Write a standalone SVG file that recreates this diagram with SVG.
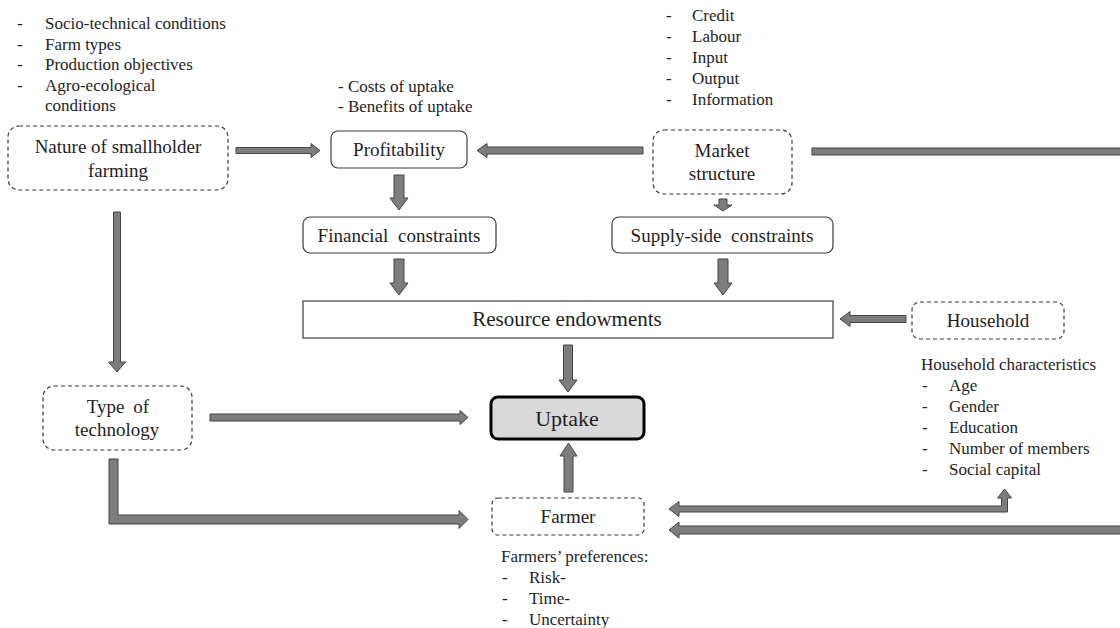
<svg xmlns="http://www.w3.org/2000/svg" width="1120" height="628" viewBox="0 0 1120 628" font-family="'Liberation Serif', 'DejaVu Serif', serif">
<style>
text{fill:#1e1e1e}
.lst{font-size:17px}
.lbl{font-size:19px;text-anchor:middle}
.dash{fill:#fff;stroke:#3a3a3a;stroke-width:1.2;stroke-dasharray:4 3}
.solid{fill:#fff;stroke:#3a3a3a;stroke-width:1.2}
.arr{fill:#7d7d7d;stroke:#454545;stroke-width:1}
</style>
<rect width="1120" height="628" fill="#fff"/>

<g id="connectors">
<polygon class="arr" points="236,147.5 311,147.5 311,143.5 320,150.5 311,157.5 311,153.5 236,153.5"/>
<polygon class="arr" points="643,147 487,147 487,143.5 477,150.5 487,157.5 487,154 643,154"/>
<rect class="arr" x="812" y="148" width="310" height="7"/>
<polygon class="arr" points="394,175 404,175 404,198 408,198 399,210 390,198 394,198"/>
<polygon class="arr" points="719,199 727,199 727,205 732,205 723,211 714,205 719,205"/>
<polygon class="arr" points="394,259 404,259 404,283 408,283 399,295 390,283 394,283"/>
<polygon class="arr" points="718,259 728,259 728,283 732,283 723,295 714,283 718,283"/>
<polygon class="arr" points="906,315.5 850,315.5 850,311.5 840,319 850,326.5 850,322.5 906,322.5"/>
<polygon class="arr" points="563.5,345 572.5,345 572.5,380 577,380 568,392 559,380 563.5,380"/>
<polygon class="arr" points="113.5,212 120.5,212 120.5,362 125.5,362 117,372 108.5,362 113.5,362"/>
<polygon class="arr" points="210,414 460,414 460,410.5 468,417.5 460,424.5 460,421 210,421"/>
<polygon class="arr" points="109,459 118,459 118,515 459,515 459,510.5 468,519.5 459,528.5 459,524 109,524"/>
<polygon class="arr" points="564,492 573,492 573,456 577,456 568.5,443 560,456 564,456"/>
<polygon class="arr" points="669,509 679,501.5 679,506 1001.5,506 1001.5,498 997.5,498 1004.5,489 1011.5,498 1007.5,498 1007.5,512 679,512 679,516.5"/>
<polygon class="arr" points="1122,526 679,526 679,522 669,530 679,538 679,534 1122,534"/>
</g>

<g id="nature-list">
<text class="lst" x="17" y="29">-</text><text class="lst" x="45" y="29">Socio-technical conditions</text>
<text class="lst" x="17" y="50">-</text><text class="lst" x="45" y="50">Farm types</text>
<text class="lst" x="17" y="70">-</text><text class="lst" x="45" y="70">Production objectives</text>
<text class="lst" x="17" y="91">-</text><text class="lst" x="45" y="91">Agro-ecological</text>
<text class="lst" x="45" y="111">conditions</text>
</g>

<g id="profit-list">
<text class="lst" x="338" y="92">- Costs of uptake</text>
<text class="lst" x="338" y="112">- Benefits of uptake</text>
</g>

<g id="market-list">
<text class="lst" x="666" y="21">-</text><text class="lst" x="692" y="21">Credit</text>
<text class="lst" x="666" y="42">-</text><text class="lst" x="692" y="42">Labour</text>
<text class="lst" x="666" y="63">-</text><text class="lst" x="692" y="63">Input</text>
<text class="lst" x="666" y="84">-</text><text class="lst" x="692" y="84">Output</text>
<text class="lst" x="666" y="105">-</text><text class="lst" x="692" y="105">Information</text>
</g>

<g id="nature">
<rect class="dash" x="8" y="126" width="220" height="64" rx="11"/>
<text class="lbl" x="118" y="153">Nature of smallholder</text>
<text class="lbl" x="118" y="177">farming</text>
</g>

<g id="profitability">
<rect class="solid" x="331" y="131" width="136" height="37" rx="7"/>
<text class="lbl" x="399" y="156">Profitability</text>
</g>

<g id="market">
<rect class="dash" x="653" y="130" width="139" height="64" rx="11"/>
<text class="lbl" x="722" y="157">Market</text>
<text class="lbl" x="722" y="180">structure</text>
</g>

<g id="financial">
<rect class="solid" x="303" y="217" width="193" height="36" rx="7"/>
<text class="lbl" x="399" y="242" word-spacing="5">Financial constraints</text>
</g>

<g id="supply">
<rect class="solid" x="612" y="217" width="221" height="36" rx="7"/>
<text class="lbl" x="722" y="242" word-spacing="5">Supply-side constraints</text>
</g>

<g id="resource">
<rect class="solid" x="303" y="301" width="530" height="37"/>
<text class="lbl" x="567" y="326" style="font-size:21px">Resource endowments</text>
</g>

<g id="household">
<rect class="dash" x="912" y="302" width="152" height="37" rx="8"/>
<text class="lbl" x="988" y="327">Household</text>
</g>

<g id="household-list">
<text class="lst" x="921" y="370">Household characteristics</text>
<text class="lst" x="922" y="391">-</text><text class="lst" x="949" y="391">Age</text>
<text class="lst" x="922" y="412">-</text><text class="lst" x="949" y="412">Gender</text>
<text class="lst" x="922" y="433">-</text><text class="lst" x="949" y="433">Education</text>
<text class="lst" x="922" y="454">-</text><text class="lst" x="949" y="454">Number of members</text>
<text class="lst" x="922" y="475">-</text><text class="lst" x="949" y="475">Social capital</text>
</g>

<g id="type">
<rect class="dash" x="43" y="386" width="149" height="64" rx="11"/>
<text class="lbl" x="118" y="413" word-spacing="4">Type of</text>
<text class="lbl" x="117" y="436">technology</text>
</g>

<g id="uptake">
<rect x="491" y="397" width="153" height="42" rx="7" fill="#d9d9d9" stroke="#000" stroke-width="3"/>
<text class="lbl" x="567" y="426" style="font-size:22px">Uptake</text>
</g>

<g id="farmer">
<rect class="dash" x="492" y="498" width="152" height="37" rx="6"/>
<text class="lbl" x="568" y="523">Farmer</text>
</g>

<g id="farmer-list">
<text class="lst" x="501" y="562">Farmers’ preferences:</text>
<text class="lst" x="502" y="583">-</text><text class="lst" x="529" y="583">Risk-</text>
<text class="lst" x="502" y="604">-</text><text class="lst" x="529" y="604">Time-</text>
<text class="lst" x="502" y="625">-</text><text class="lst" x="529" y="625">Uncertainty</text>
</g>
</svg>
